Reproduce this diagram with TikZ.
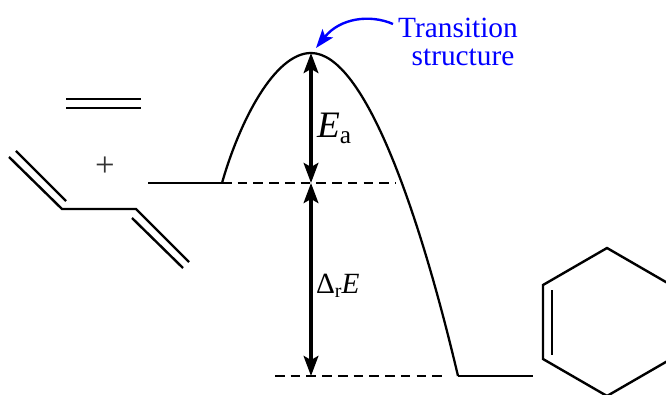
\documentclass[tikz,border=0pt]{standalone}
\usepackage{fontspec}
\setmainfont{Liberation Serif}
\usetikzlibrary{arrows.meta, positioning}
\definecolor{tsblue}{RGB}{0,0,255}
\tikzset{
  bond/.style={line width=1.8pt, line cap=butt, line join=miter},
  curveline/.style={line width=1.7pt},
  level/.style={line width=1.7pt},
  dashlevel/.style={line width=1.5pt, dash pattern=on 7.2pt off 4.6pt},
  energyarrow/.style={line width=2.6pt, {Stealth[length=15pt, width=11pt, inset=3pt]}-{Stealth[length=15pt, width=11pt, inset=3pt]}},
  lbl/.style={inner sep=0pt, outer sep=0pt}
}
\begin{document}
\begin{tikzpicture}[x=0.75pt, y=-0.75pt]
    \clip (0,0) rectangle (666,395);

    %% Named points of the profile
    \coordinate (start) at (148,183);
    \coordinate (rise) at (222,183);
    \coordinate (peak) at (311,53);
    \coordinate (fall) at (458,376);
    \coordinate (stop) at (533,376);
    \coordinate (mid) at (311,183);
    \coordinate (low) at (311,376);

    %% Energy profile
    \draw[level] (start) -- (rise);
    \draw[curveline] (rise) .. controls (240,120) and (275,53) .. (peak)
      .. controls (365,53) and (420,215) .. (fall);
    \draw[level] (fall) -- (stop);

    %% Dashed levels
    \coordinate (upperend) at (396,183);
    \coordinate (lowerstart) at (275,376);
    \coordinate (lowerend) at (446,376);
    \draw[dashlevel] (rise) -- (upperend);
    \draw[dashlevel] (lowerstart) -- (lowerend);

    %% Energy arrows
    \draw[energyarrow] (peak) -- (mid);
    \draw[energyarrow] (mid) -- (low);
    \node[lbl, anchor=base west, font=\fontsize{28}{28}\selectfont] (ea) at (317,138) {\textit{E}\raisebox{-4.5pt}{\fontsize{19}{19}\selectfont a}};
    \node[lbl, anchor=west, font=\fontsize{22}{22}\selectfont] (dre) at (316,286) {Δ\raisebox{-3pt}{\fontsize{15}{15}\selectfont r}\textit{E}};

    %% Transition structure label
    \node[lbl, font=\fontsize{22}{22}\selectfont, text=tsblue] (ts1) at (458,28) {Transition};
    \node[lbl, font=\fontsize{22}{22}\selectfont, text=tsblue] (ts2) at (463,57) {structure};
    \coordinate (tstip) at (316,48);
    \coordinate (tstail) at (393,24);
    \draw[-{Stealth[length=14pt, width=10pt, inset=3pt]}, line width=1.8pt, tsblue]
      (tstail) .. controls (370,14) and (340,18) .. (tstip);

    %% Ethene
    \draw[bond] (66,99) -- (141,99);
    \draw[bond] (66,108) -- (141,108);

    \node[lbl, font=\fontsize{26}{26}\selectfont, text=black!80] (plus) at (105,167) {+};

    %% Butadiene
    \draw[bond] (9,157) -- (62,209) -- (136,209) -- (189,262);
    \draw[bond] (16,151) -- (66,201);
    \draw[bond] (132,218) -- (183,268);

    %% Cyclohexene
    \draw[bond] (543,285) -- (607,248) -- (671,285) -- (671,359) -- (607,396) -- (543,359) -- cycle;
    \draw[bond] (552,290) -- (552,355);
\end{tikzpicture}
\end{document}
